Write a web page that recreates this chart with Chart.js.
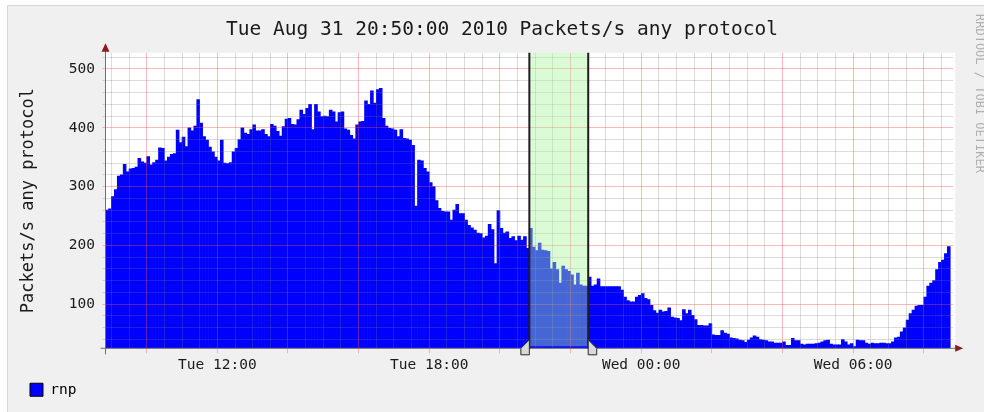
<!DOCTYPE html>
<html>
<head>
<meta charset="utf-8">
<script src="https://cdn.jsdelivr.net/npm/chart.js@4/dist/chart.umd.min.js"></script>
<style>
  html, body { margin: 0; padding: 0; background: #fff; }
  #wrap { width: 984px; height: 412px; }
</style>
</head>
<body>
<div id="wrap"><canvas id="chart" width="984" height="412"></canvas></div>
<script>
// time axis in hours from Tue 00:00, one value every 5 minutes
const startHour = 8 + 50 / 60;      // Tue 08:50
const endHour = startHour + 24;     // Wed 08:50
const stepHours = 5 / 60;

const titleText = 'Tue Aug 31 20:50:00 2010 Packets/s any protocol';
const yTitle = 'Packets/s any protocol';
const seriesName = 'rnp';

// packets/s
const rnp = [
  260, 262, 283, 295, 318, 320, 338, 325, 330, 331,
  333, 348, 342, 340, 351, 337, 341, 345, 366, 365,
  344, 350, 355, 356, 396, 375, 384, 368, 400, 395,
  403, 448, 408, 385, 379, 367, 359, 350, 344, 379,
  340, 339, 341, 359, 365, 380, 400, 391, 389, 397,
  405, 395, 395, 397, 389, 385, 406,
  403, 394, 386, 402, 415, 416, 406, 405, 414, 430,
  423, 433, 440, 397, 440, 427, 419, 420, 419, 430,
  427, 410, 426, 427, 398, 396, 387, 381, 405, 410,
  411, 446, 440, 463, 442, 465, 467, 416, 403, 399,
  398, 396, 385, 397, 382, 381, 379, 370, 267, 345,
  344, 331, 325, 307, 300, 276, 263, 258, 257,
  257, 243, 260, 270, 254, 254, 243, 234, 230, 226,
  221, 220, 213, 216, 236, 227, 169, 259, 229, 221,
  223, 212, 215, 208, 216, 209, 215, 195, 229, 197,
  191, 204, 192, 191, 190, 160, 171, 159, 136, 165,
  159, 156, 150, 133, 153, 133, 131, 131, 146, 131,
  133, 143, 130, 130, 130, 130, 130, 130,
  130, 124, 112, 106, 104, 104, 112, 115, 118, 110,
  108, 98, 89, 85, 90, 87, 88, 94, 78, 77,
  76, 72, 91, 84, 90, 81, 74, 64, 64, 63,
  63, 67, 48, 47, 47, 55, 51, 49, 43, 42,
  41, 39, 38, 35, 39, 43, 46, 44, 40, 39,
  38, 36, 36, 34, 34, 34, 36, 30,
  30, 42, 38, 38, 32, 31, 32, 32, 32, 33,
  34, 36, 38, 39, 32, 31, 31, 31, 40, 36,
  31, 33, 28, 39, 38, 38, 34, 32, 34, 33,
  33, 34, 34, 33, 33, 36, 43, 44, 53, 60,
  73, 84, 90, 97, 98, 98, 112, 131, 136, 140,
  159, 171, 175, 186, 198
];

const xLabelHours = [12, 18, 24, 30];
const xLabelText = ['Tue 12:00', 'Tue 18:00', 'Wed 00:00', 'Wed 06:00'];
const yLabelValues = [100, 200, 300, 400, 500];
const yMin = 25;
const yMax = 527.5;

// highlighted span 20:50 - 22:30
const selection = [20 + 50 / 60, 22.5];

const MONO = "'DejaVu Sans Mono', monospace";
const RED = 'rgba(255,70,70,0.38)';
const GREY = 'rgba(120,120,120,0.26)';

const points = rnp.map((v, i) => ({ x: startHour + (i + 0.5) * stepHours, y: v }));

const xGrid = [];
for (let h = Math.ceil(startHour * 2) / 2; h < endHour; h += 0.5) xGrid.push(h);
const yGrid = [];
for (let v = 40; v < yMax; v += 20) yGrid.push(v);

const rrdLook = {
  id: 'rrdLook',
  beforeDraw(chart) {
    const { ctx, chartArea: a, width, height } = chart;
    ctx.save();
    ctx.fillStyle = '#ffffff';
    ctx.fillRect(0, 0, width, height);
    ctx.fillStyle = '#f0f0f0';
    ctx.fillRect(7, 5, width - 7, height - 5);
    ctx.strokeStyle = '#d6d6d6';
    ctx.lineWidth = 1;
    ctx.beginPath();
    ctx.moveTo(7.5, height);
    ctx.lineTo(7.5, 5.5);
    ctx.lineTo(width, 5.5);
    ctx.stroke();

    ctx.fillStyle = '#ffffff';
    ctx.fillRect(a.left, a.top, a.right - a.left + 2, a.bottom - a.top);

    ctx.fillStyle = '#1a1a1a';
    ctx.font = '19.5px ' + MONO;
    ctx.textAlign = 'center';
    ctx.textBaseline = 'middle';
    ctx.fillText(titleText, 502, 29.5);

    ctx.translate(979, 14);
    ctx.rotate(Math.PI / 2);
    ctx.font = '12px ' + MONO;
    ctx.fillStyle = '#b0b0b0';
    ctx.textAlign = 'left';
    ctx.fillText('RRDTOOL / TOBI OETIKER', 0, 0);
    ctx.restore();
  },
  afterDraw(chart) {
    const { ctx, chartArea: a, scales: { x } } = chart;
    const x0 = x.getPixelForValue(selection[0]);
    const x1 = x.getPixelForValue(selection[1]);
    ctx.save();

    // selection shade
    ctx.fillStyle = 'rgba(170,243,158,0.42)';
    ctx.fillRect(x0, a.top, x1 - x0, a.bottom - a.top - 2);

    // axes
    ctx.strokeStyle = '#707070';
    ctx.lineWidth = 1;
    ctx.beginPath();
    ctx.moveTo(a.left - 5, a.bottom);
    ctx.lineTo(a.right + 3, a.bottom);
    ctx.moveTo(a.left, a.bottom + 6);
    ctx.lineTo(a.left, a.top - 2);
    ctx.stroke();

    ctx.fillStyle = '#8e1c1c';
    ctx.beginPath();
    ctx.moveTo(a.left, a.top - 9.5);
    ctx.lineTo(a.left - 4, a.top - 1);
    ctx.lineTo(a.left + 4, a.top - 1);
    ctx.closePath();
    ctx.fill();
    ctx.beginPath();
    ctx.moveTo(a.right + 10, a.bottom);
    ctx.lineTo(a.right + 2, a.bottom - 3.5);
    ctx.lineTo(a.right + 2, a.bottom + 3.5);
    ctx.closePath();
    ctx.fill();

    // selection edges
    ctx.strokeStyle = '#1e1e1e';
    ctx.lineWidth = 2;
    ctx.beginPath();
    ctx.moveTo(x0, a.top);
    ctx.lineTo(x0, a.bottom);
    ctx.moveTo(x1, a.top);
    ctx.lineTo(x1, a.bottom);
    ctx.stroke();

    // handles
    ctx.lineWidth = 1;
    ctx.fillStyle = '#d8d8d8';
    ctx.strokeStyle = '#2a2a2a';
    const b = a.bottom;
    ctx.beginPath();
    ctx.moveTo(x0, b - 8.5);
    ctx.lineTo(x0 - 8.5, b);
    ctx.lineTo(x0 - 8.5, b + 6.5);
    ctx.lineTo(x0, b + 6.5);
    ctx.closePath();
    ctx.fill();
    ctx.stroke();
    ctx.beginPath();
    ctx.moveTo(x1, b - 8.5);
    ctx.lineTo(x1 + 8.5, b);
    ctx.lineTo(x1 + 8.5, b + 6.5);
    ctx.lineTo(x1, b + 6.5);
    ctx.closePath();
    ctx.fill();
    ctx.stroke();
    ctx.restore();
  }
};

new Chart(document.getElementById('chart'), {
  type: 'bar',
  data: {
    datasets: [{
      label: seriesName,
      data: points,
      backgroundColor: '#0000ff',
      borderWidth: 0,
      barPercentage: 1,
      categoryPercentage: 1
    }]
  },
  options: {
    responsive: false,
    devicePixelRatio: 1,
    animation: false,
    events: [],
    layout: { padding: { top: 52.8, left: 20, right: 30.8, bottom: 5 } },
    plugins: {
      title: { display: false },
      tooltip: { enabled: false },
      legend: {
        position: 'bottom',
        align: 'start',
        labels: {
          boxWidth: 13,
          boxHeight: 13,
          padding: 10,
          color: '#1a1a1a',
          font: { family: MONO, size: 14.5 },
          generateLabels: (chart) => chart.data.datasets.map((ds, i) => ({
            text: ds.label,
            fillStyle: '#0000ff',
            strokeStyle: '#000000',
            lineWidth: 1,
            datasetIndex: i
          }))
        }
      }
    },
    scales: {
      x: {
        type: 'linear',
        min: startHour,
        max: endHour,
        offset: false,
        afterBuildTicks: (s) => { s.ticks = xGrid.map(v => ({ value: v })); },
        afterFit: (s) => { s.height = 24.2; },
        grid: {
          z: 1,
          offset: false,
          color: (c) => (c.tick && c.tick.value % 2 === 0) ? RED : GREY,
          tickColor: (c) => (c.tick && c.tick.value % 2 === 0) ? RED : 'rgba(0,0,0,0)',
          tickLength: 5
        },
        border: { display: false },
        ticks: {
          autoSkip: false,
          maxRotation: 0,
          padding: 3,
          color: '#1a1a1a',
          font: { family: MONO, size: 14.5 },
          callback: (v) => {
            const k = xLabelHours.indexOf(v);
            return k >= 0 ? xLabelText[k] : '';
          }
        }
      },
      y: {
        type: 'linear',
        min: yMin,
        max: yMax,
        afterBuildTicks: (s) => { s.ticks = yGrid.map(v => ({ value: v })); },
        afterFit: (s) => { s.width = 85.5; },
        grid: {
          z: 1,
          color: (c) => (c.tick && c.tick.value % 100 === 0) ? RED : GREY,
          tickColor: (c) => (c.tick && c.tick.value % 100 === 0) ? RED : GREY,
          tickLength: 3
        },
        border: { display: false },
        title: {
          display: true,
          text: yTitle,
          color: '#1a1a1a',
          font: { family: MONO, size: 17, lineHeight: 1 },
          padding: { top: 0, bottom: 0 }
        },
        ticks: {
          autoSkip: false,
          padding: 7.5,
          color: '#1a1a1a',
          font: { family: MONO, size: 14.5 },
          callback: (v) => yLabelValues.includes(v) ? String(v) : ''
        }
      }
    }
  },
  plugins: [rrdLook]
});
</script>
</body>
</html>
